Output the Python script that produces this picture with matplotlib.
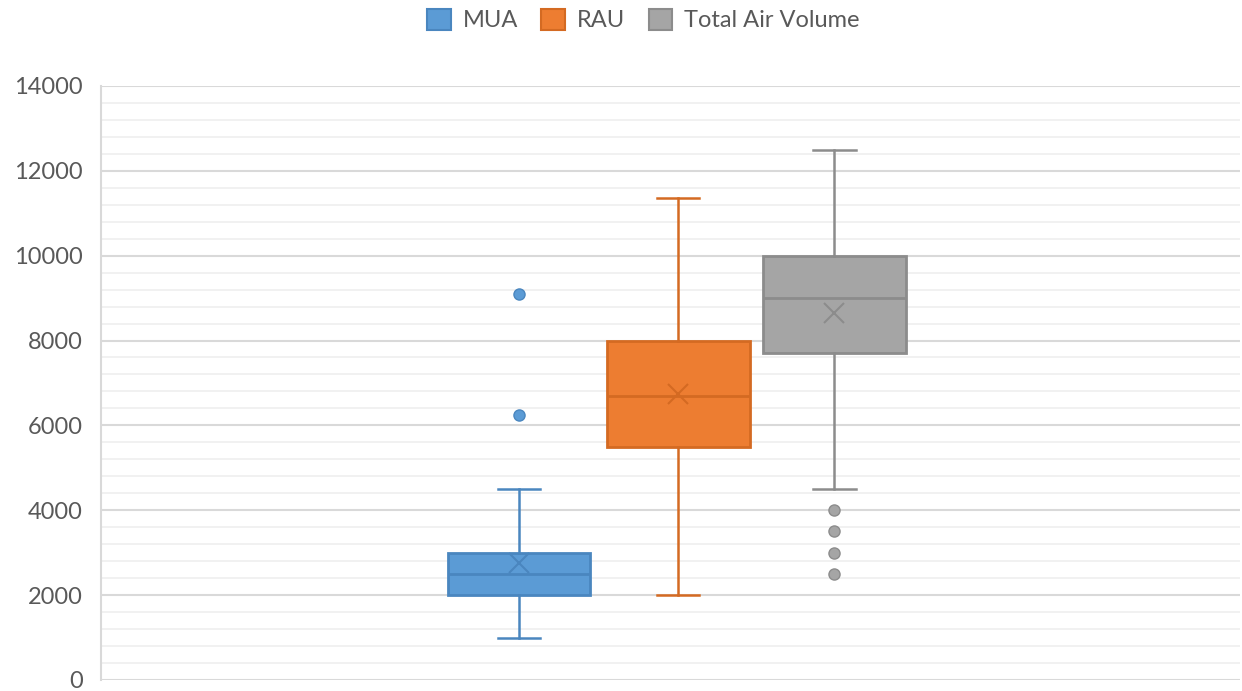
import matplotlib.pyplot as plt
from matplotlib.ticker import MultipleLocator
from matplotlib.patches import Patch

plt.rcParams['font.family'] = ['Lato', 'DejaVu Sans']

series = ['MUA', 'RAU', 'Total Air Volume']
whislo = [1000, 2000, 4500]
q1 = [2000, 5500, 7700]
med = [2500, 6700, 9000]
q3 = [3000, 8000, 10000]
whishi = [4500, 11350, 12500]
means = [2750, 6740, 8650]
fliers = [[6250, 9100], [], [2500, 3000, 3500, 4000]]

fills = ['#5B9BD5', '#ED7D31', '#A5A5A5']
edges = ['#4A86BF', '#D46A22', '#8C8C8C']
positions = [0.367, 0.507, 0.644]

fig = plt.figure(figsize=(12.42, 6.91), dpi=100)
ax = fig.add_axes([0.0813, 0.016, 0.917, 0.8596])

for i in range(3):
    stats = [dict(whislo=whislo[i], q1=q1[i], med=med[i], q3=q3[i],
                  whishi=whishi[i], mean=means[i], fliers=fliers[i])]
    ax.bxp(stats, positions=[positions[i]], widths=0.125, patch_artist=True,
           showmeans=True, manage_ticks=False,
           boxprops=dict(facecolor=fills[i], edgecolor=edges[i], linewidth=2),
           medianprops=dict(color=edges[i], linewidth=2),
           whiskerprops=dict(color=edges[i], linewidth=1.8),
           capprops=dict(color=edges[i], linewidth=1.8),
           capwidths=0.037,
           meanprops=dict(marker='x', markeredgecolor=edges[i], markersize=15,
                          markeredgewidth=1.5),
           flierprops=dict(marker='o', markerfacecolor=fills[i],
                           markeredgecolor=edges[i], markersize=8))

ax.set_xlim(0, 1)
ax.set_ylim(0, 14000)
ax.yaxis.set_major_locator(MultipleLocator(2000))
ax.yaxis.set_minor_locator(MultipleLocator(400))
ax.grid(which='major', axis='y', color='#D9D9D9', linewidth=1.5)
ax.grid(which='minor', axis='y', color='#EFEFEF', linewidth=1.2)
ax.set_axisbelow(True)
ax.set_xticks([])
ax.tick_params(axis='y', which='both', length=0, pad=13, labelsize=17,
               labelcolor='#595959')
for s in ['top', 'right', 'bottom']:
    ax.spines[s].set_visible(False)
ax.spines['left'].set_color('#D9D9D9')
ax.spines['left'].set_linewidth(1.5)

handles = [Patch(facecolor=fills[i], edgecolor=edges[i], linewidth=1.5)
           for i in range(3)]
fig.legend(handles, series, loc='upper center', bbox_to_anchor=(0.518, 1.018),
           ncol=3, frameon=False, fontsize=17, labelcolor='#595959',
           handlelength=1.0, handleheight=1.0, handletextpad=0.5,
           columnspacing=1.0)

fig.savefig('out.png', dpi=100)
